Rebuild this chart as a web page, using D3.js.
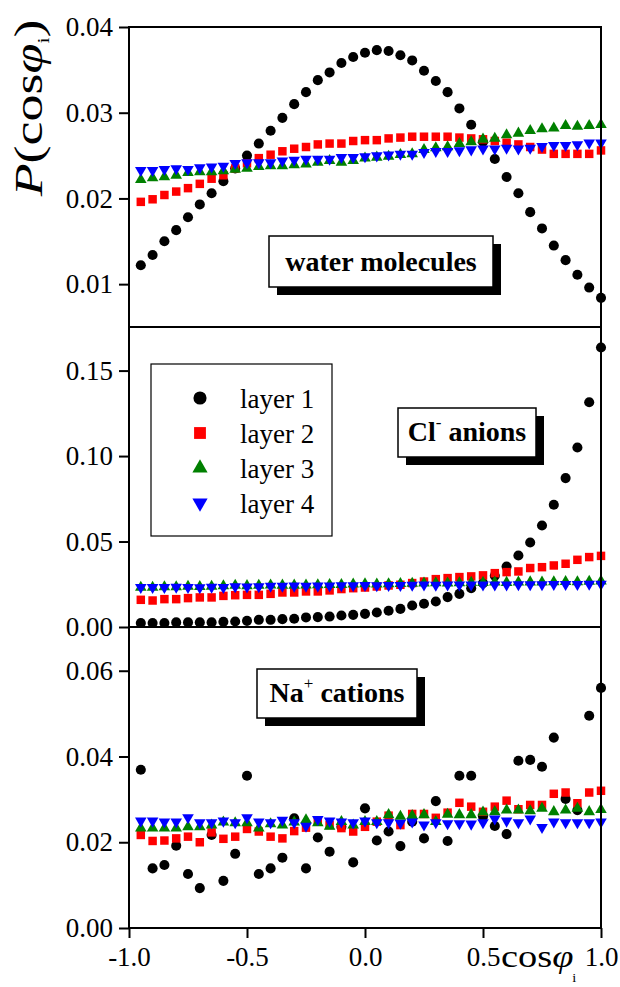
<!DOCTYPE html>
<html>
<head>
<meta charset="utf-8">
<script src="https://cdn.jsdelivr.net/npm/d3@7"></script>
<style>
html,body{margin:0;padding:0;background:#fff;}
svg{display:block;}
text{font-family:"Liberation Serif","Times New Roman",serif;fill:#000;}
</style>
</head>
<body>
<svg id="chart" width="620" height="987"></svg>
<script>
// ---------- data ----------
const cosValues = [-0.95,-0.90,-0.85,-0.80,-0.75,-0.70,-0.65,-0.60,-0.55,-0.50,
  -0.45,-0.40,-0.35,-0.30,-0.25,-0.20,-0.15,-0.10,-0.05,0.00,
  0.05,0.10,0.15,0.20,0.25,0.30,0.35,0.40,0.45,0.50,
  0.55,0.60,0.65,0.70,0.75,0.80,0.85,0.90,0.95,1.00];

const seriesNames = ["layer 1","layer 2","layer 3","layer 4"];
const seriesColors = ["#000000","#ff0000","#008000","#0000ff"];

// water molecules
const water1 = [0.0122,0.0134,0.0150,0.0163,0.0178,0.0193,0.0206,0.0220,0.0235,0.0250,
  0.0264,0.0279,0.0294,0.0310,0.0324,0.0338,0.0347,0.0358,0.0365,0.0370,
  0.0373,0.0372,0.0367,0.0361,0.0349,0.0337,0.0324,0.0305,0.0286,0.0266,
  0.0246,0.0225,0.0206,0.0184,0.0165,0.0145,0.0128,0.0111,0.0096,0.0084];
const water2 = [0.0196,0.0199,0.0204,0.0208,0.0212,0.0217,0.0223,0.0227,0.0235,0.0241,
  0.0247,0.0251,0.0255,0.0258,0.0260,0.0263,0.0264,0.0264,0.0267,0.0268,
  0.0268,0.0270,0.0271,0.0272,0.0272,0.0272,0.0272,0.0271,0.0270,0.0269,
  0.0267,0.0265,0.0263,0.0260,0.0257,0.0252,0.0252,0.0252,0.0252,0.0256];
const water3 = [0.0222,0.0224,0.0225,0.0227,0.0230,0.0231,0.0231,0.0232,0.0234,0.0235,
  0.0237,0.0238,0.0238,0.0239,0.0240,0.0242,0.0244,0.0242,0.0244,0.0247,
  0.0248,0.0249,0.0251,0.0252,0.0257,0.0259,0.0260,0.0264,0.0266,0.0269,
  0.0270,0.0274,0.0276,0.0279,0.0281,0.0282,0.0285,0.0284,0.0285,0.0286];
const water4 = [0.0234,0.0234,0.0235,0.0236,0.0235,0.0237,0.0238,0.0239,0.0242,0.0243,
  0.0243,0.0243,0.0245,0.0246,0.0247,0.0247,0.0247,0.0249,0.0249,0.0250,
  0.0251,0.0252,0.0253,0.0253,0.0255,0.0256,0.0256,0.0257,0.0258,0.0259,
  0.0259,0.0260,0.0259,0.0260,0.0262,0.0263,0.0263,0.0264,0.0266,0.0266];

// Cl- anions
const cl1 = [0.0023,0.0023,0.0023,0.0027,0.0027,0.0027,0.0027,0.0030,0.0032,0.0036,
  0.0042,0.0042,0.0046,0.0048,0.0056,0.0058,0.0061,0.0067,0.0071,0.0077,
  0.0085,0.0095,0.0106,0.0126,0.0136,0.0149,0.0175,0.0194,0.0227,0.0257,
  0.0300,0.0354,0.0418,0.0494,0.0594,0.0715,0.0871,0.1050,0.1315,0.1635];
const cl2 = [0.0159,0.0155,0.0163,0.0163,0.0169,0.0173,0.0173,0.0182,0.0186,0.0188,
  0.0188,0.0194,0.0202,0.0202,0.0208,0.0208,0.0214,0.0222,0.0227,0.0231,
  0.0237,0.0243,0.0247,0.0257,0.0266,0.0280,0.0286,0.0292,0.0296,0.0302,
  0.0315,0.0321,0.0325,0.0345,0.0350,0.0360,0.0370,0.0393,0.0409,0.0416];
const cl3 = [0.0232,0.0232,0.0234,0.0235,0.0237,0.0236,0.0238,0.0240,0.0243,0.0241,
  0.0243,0.0245,0.0244,0.0244,0.0245,0.0246,0.0248,0.0248,0.0250,0.0252,
  0.0250,0.0252,0.0254,0.0255,0.0256,0.0258,0.0257,0.0258,0.0260,0.0260,
  0.0262,0.0260,0.0262,0.0263,0.0262,0.0264,0.0265,0.0264,0.0266,0.0268];
const cl4 = [0.0238,0.0238,0.0238,0.0240,0.0238,0.0237,0.0240,0.0238,0.0242,0.0241,
  0.0242,0.0245,0.0245,0.0246,0.0245,0.0246,0.0247,0.0248,0.0248,0.0250,
  0.0248,0.0249,0.0250,0.0251,0.0252,0.0251,0.0252,0.0252,0.0253,0.0253,
  0.0253,0.0253,0.0254,0.0254,0.0254,0.0255,0.0255,0.0256,0.0257,0.0257];

// Na+ cations
const na1 = [0.0369,0.0139,0.0147,0.0192,0.0126,0.0093,0.0217,0.0110,0.0173,0.0355,
  0.0126,0.0139,0.0164,0.0256,0.0139,0.0211,0.0178,0.0236,0.0153,0.0279,
  0.0204,0.0225,0.0191,0.0248,0.0209,0.0296,0.0203,0.0355,0.0355,0.0260,
  0.0238,0.0219,0.0390,0.0392,0.0376,0.0444,0.0301,0.0275,0.0495,0.0560];
const na2 = [0.0217,0.0203,0.0204,0.0209,0.0213,0.0200,0.0223,0.0208,0.0213,0.0231,
  0.0225,0.0213,0.0209,0.0226,0.0234,0.0248,0.0240,0.0233,0.0225,0.0236,
  0.0248,0.0262,0.0240,0.0266,0.0266,0.0257,0.0269,0.0292,0.0283,0.0271,
  0.0283,0.0297,0.0277,0.0287,0.0287,0.0313,0.0316,0.0291,0.0316,0.0320];
const na3 = [0.0233,0.0233,0.0233,0.0233,0.0236,0.0236,0.0240,0.0247,0.0245,0.0245,
  0.0233,0.0243,0.0240,0.0247,0.0252,0.0245,0.0237,0.0248,0.0240,0.0248,
  0.0248,0.0264,0.0260,0.0262,0.0264,0.0248,0.0265,0.0264,0.0264,0.0270,
  0.0271,0.0275,0.0275,0.0273,0.0279,0.0271,0.0275,0.0279,0.0271,0.0276];
const na4 = [0.0252,0.0252,0.0250,0.0250,0.0260,0.0248,0.0248,0.0252,0.0248,0.0260,
  0.0250,0.0248,0.0254,0.0248,0.0240,0.0256,0.0252,0.0250,0.0248,0.0252,
  0.0248,0.0248,0.0247,0.0250,0.0243,0.0248,0.0246,0.0246,0.0245,0.0248,
  0.0257,0.0252,0.0248,0.0257,0.0237,0.0250,0.0248,0.0248,0.0248,0.0250];

const xTicks = [-1.0,-0.5,0.0,0.5,1.0];
const waterTicks = [0.01,0.02,0.03,0.04];
const clTicks = [0.00,0.05,0.10,0.15];
const naTicks = [0.00,0.02,0.04,0.06];

// ---------- layout ----------
const FONT = '"Liberation Serif","Times New Roman",serif';
const svg = d3.select("#chart");
const left = 129, right = 601;
const x = d3.scaleLinear().domain([-1,1]).range([left,right]);

const panels = [
  {series:[water1,water2,water3,water4], domain:[0.005,0.04], top:27, bottom:327, ticks:waterTicks,
   label:{box:[269,236,493,287], parts:[["water molecules",false]]}},
  {series:[cl1,cl2,cl3,cl4], domain:[0,0.1755], top:327, bottom:627, ticks:clTicks,
   label:{box:[398,408,536,457], parts:[["Cl",false],["-",true],[" anions",false]]}},
  {series:[na1,na2,na3,na4], domain:[0,0.0702], top:627, bottom:928, ticks:naTicks,
   label:{box:[257,669,417,718], parts:[["Na",false],["+",true],[" cations",false]]}}
];

const symTypes = [d3.symbolCircle, d3.symbolSquare, d3.symbolTriangle, d3.symbolTriangle];
const symRot = [0,0,0,180];
const symSizes = [80, 72, 58, 58];
const legSizes = [135, 140, 100, 100];

function sym(i, size){ return d3.symbol().type(symTypes[i]).size(size)(); }

panels.forEach((p, pi) => {
  const y = d3.scaleLinear().domain(p.domain).range([p.bottom, p.top]);
  const g = svg.append("g");
  p.series.forEach((vals, si) => {
    g.append("g").selectAll("path").data(vals).join("path")
      .attr("d", sym(si, symSizes[si]))
      .attr("fill", seriesColors[si])
      .attr("transform", (d,i) => `translate(${x(cosValues[i])},${y(d)}) rotate(${symRot[si]})` + (si===3 ? " translate(0,-1)" : ""));
  });
  const ax = svg.append("g").attr("transform", `translate(${left},0)`)
    .call(d3.axisLeft(y).tickValues(p.ticks).tickSize(10).tickSizeOuter(0).tickPadding(6).tickFormat(d => d.toFixed(2)));
  ax.attr("font-family", null).attr("font-size", null);
  ax.select(".domain").remove();
  ax.selectAll(".tick line").attr("stroke","#000").attr("stroke-width",2);
  ax.selectAll(".tick text").attr("font-size",27).style("font-family",FONT).attr("fill","#000");
  svg.append("rect").attr("x",left).attr("y",p.top).attr("width",right-left).attr("height",p.bottom-p.top)
    .attr("fill","none").attr("stroke","#000").attr("stroke-width",2);
  const b = p.label.box;
  svg.append("rect").attr("x",b[0]+8).attr("y",b[1]+8).attr("width",b[2]-b[0]).attr("height",b[3]-b[1]).attr("fill","#000");
  svg.append("rect").attr("x",b[0]).attr("y",b[1]).attr("width",b[2]-b[0]).attr("height",b[3]-b[1])
    .attr("fill","#fff").attr("stroke","#000").attr("stroke-width",1.5);
  const t = svg.append("text").attr("x",(b[0]+b[2])/2).attr("y",b[3]-16).attr("text-anchor","middle")
    .attr("font-size",28).attr("font-weight","bold").style("font-family",FONT);
  p.label.parts.forEach(([s, sup], k) => {
    if (sup) {
      t.append("tspan").text(s).attr("font-size",17).attr("font-weight","normal").attr("dy",-13);
    } else {
      const ts = t.append("tspan").text(s);
      if (k > 0) ts.attr("dy",13);
    }
  });
});

const bx = svg.append("g").attr("transform",`translate(0,928)`)
  .call(d3.axisBottom(x).tickValues(xTicks).tickSize(10).tickSizeOuter(0).tickPadding(9).tickFormat(d => d.toFixed(1)));
bx.attr("font-family", null).attr("font-size", null);
bx.select(".domain").remove();
bx.selectAll(".tick line").attr("stroke","#000").attr("stroke-width",2);
bx.selectAll(".tick text").attr("font-size",27).style("font-family",FONT).attr("fill","#000");

// legend
const lg = svg.append("g");
lg.append("rect").attr("x",151).attr("y",364).attr("width",181).attr("height",172)
  .attr("fill","#fff").attr("stroke","#000").attr("stroke-width",1.2);
seriesNames.forEach((n, i) => {
  const cy = 398 + i*35;
  lg.append("path").attr("d", sym(i, legSizes[i])).attr("fill", seriesColors[i])
    .attr("transform", `translate(200,${cy}) rotate(${symRot[i]})`);
  lg.append("text").attr("x",240).attr("y",cy+9.5).attr("font-size",27).style("font-family",FONT).text(n);
});

// axis titles
const xt = svg.append("text").attr("transform","translate(501,967) scale(1.2,1)").attr("font-size",32).style("font-family",FONT);
xt.append("tspan").text("cos");
xt.append("tspan").text("φ").attr("font-style","italic");
xt.append("tspan").text("i").attr("font-size",12).attr("dy",15).attr("dx",-1);

const yt = svg.append("text").attr("transform","translate(42,108) rotate(-90) scale(1.35,1)")
  .attr("text-anchor","middle").attr("font-size",40).style("font-family",FONT);
yt.append("tspan").text("P").attr("font-style","italic");
yt.append("tspan").text("(cos");
yt.append("tspan").text("φ").attr("font-style","italic");
yt.append("tspan").text("i").attr("font-size",16).attr("dy",7);
yt.append("tspan").text(")").attr("dy",-7);
</script>
</body>
</html>
